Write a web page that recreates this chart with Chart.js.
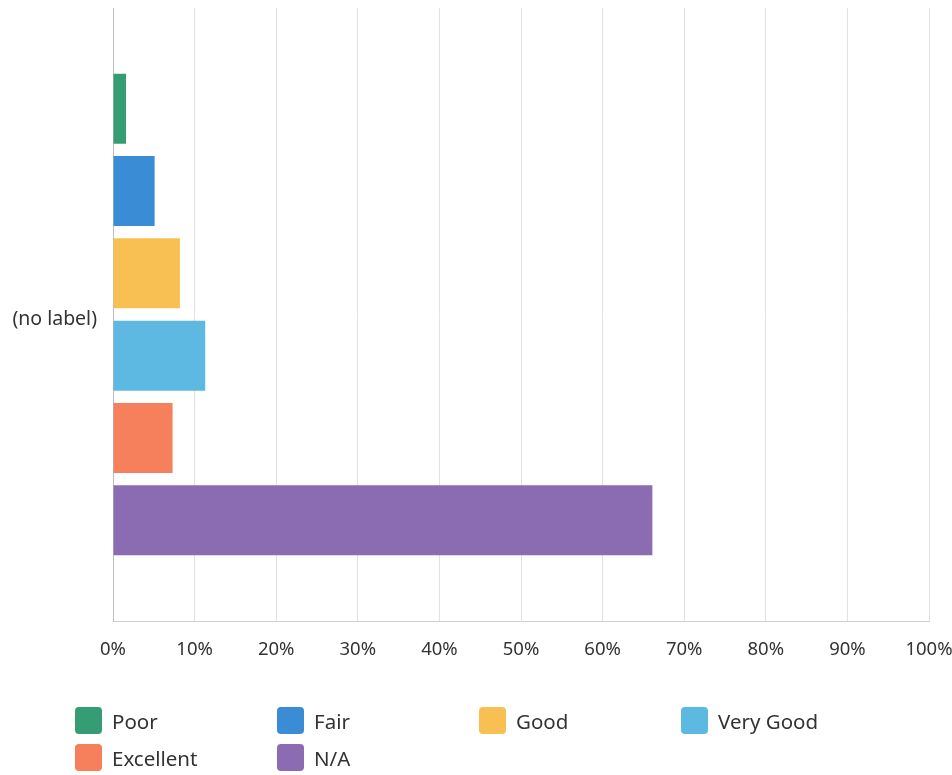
<!DOCTYPE html>
<html>
<head>
<meta charset="utf-8">
<script src="https://cdn.jsdelivr.net/npm/chart.js@4.4.1/dist/chart.umd.min.js"></script>
<style>
  body { margin: 0; background: #fff; }
  #wrap { position: relative; width: 952px; height: 775px; }
  #legend {
    position: absolute; left: 75px; top: 707px;
    display: grid; grid-template-columns: repeat(4, 202px); row-gap: 10px;
    font-family: "Noto Sans", sans-serif; font-size: 20.5px; color: #333;
  }
  .item { display: flex; align-items: center; height: 27px; }
  .box { width: 27px; height: 27px; border-radius: 4px; margin-right: 10px; }
</style>
</head>
<body>
<div id="wrap">
  <canvas id="ratingChart" width="952" height="775"></canvas>
  <div id="legend"></div>
</div>
<script>
var categories = ['(no label)'];
var ratingNames = ['Poor', 'Fair', 'Good', 'Very Good', 'Excellent', 'N/A'];
var ratingValues = [1.6, 5.1, 8.2, 11.3, 7.3, 66.1];
var ratingColors = ['#359c74', '#3a8dd5', '#f8c052', '#5db9e1', '#f67f5c', '#8b6cb2'];
var xTicks = [0, 10, 20, 30, 40, 50, 60, 70, 80, 90, 100];

var datasets = ratingNames.map(function (name, i) {
  return {
    label: name,
    data: [ratingValues[i]],
    backgroundColor: ratingColors[i],
    barPercentage: 0.85,
    categoryPercentage: 0.806
  };
});

var ctx = document.getElementById('ratingChart').getContext('2d');
var ratingChart = new Chart(ctx, {
  type: 'bar',
  data: {
    labels: categories,
    datasets: datasets
  },
  options: {
    indexAxis: 'y',
    responsive: false,
    animation: false,
    layout: {
      padding: { top: 8, right: 23, bottom: 0, left: 0 }
    },
    plugins: {
      legend: { display: false },
      tooltip: { enabled: false }
    },
    scales: {
      x: {
        min: 0,
        max: 100,
        afterBuildTicks: function (scale) {
          scale.ticks = xTicks.map(function (v) { return { value: v }; });
        },
        afterFit: function (scale) {
          scale.height = 154;
          scale.paddingLeft = 0;
          scale.paddingRight = 0;
        },
        grid: {
          color: '#e2e2e2',
          drawTicks: false
        },
        border: { color: '#d0d0d0' },
        ticks: {
          padding: 18,
          color: '#333',
          font: { family: 'Noto Sans', size: 18.5 },
          callback: function (v) { return v + '%'; }
        }
      },
      y: {
        afterFit: function (scale) {
          scale.width = 113;
          scale.paddingTop = 0;
          scale.paddingBottom = 0;
        },
        grid: { display: false },
        border: { color: '#bdbdbd' },
        ticks: {
          padding: 8,
          labelOffset: 5,
          color: '#333',
          font: { family: 'Noto Sans', size: 19.5 }
        }
      }
    }
  }
});

// legend laid out in a four column grid under the chart
var legendEl = document.getElementById('legend');
ratingChart.data.datasets.forEach(function (ds) {
  var item = document.createElement('div');
  item.className = 'item';
  var box = document.createElement('span');
  box.className = 'box';
  box.style.background = ds.backgroundColor;
  item.appendChild(box);
  item.appendChild(document.createTextNode(ds.label));
  legendEl.appendChild(item);
});
</script>
</body>
</html>
